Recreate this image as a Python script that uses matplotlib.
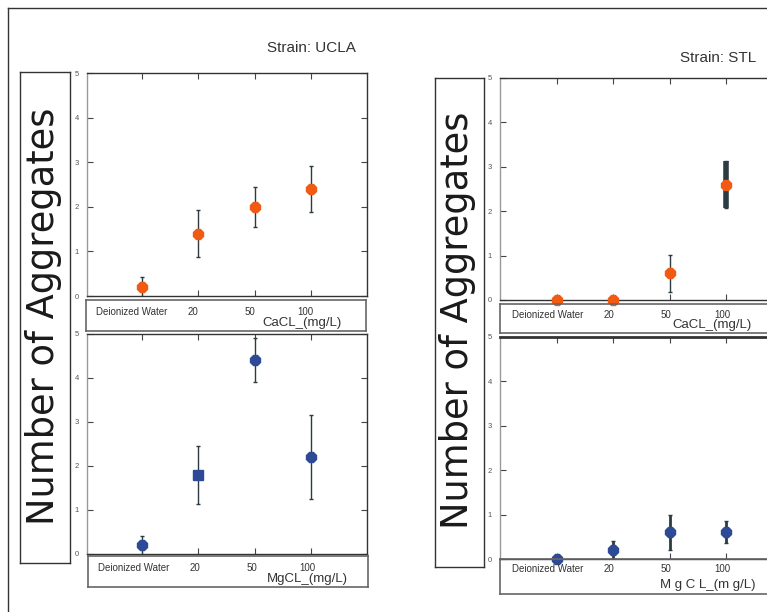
import matplotlib.pyplot as plt
from matplotlib.lines import Line2D

W, H = 767, 612
plt.rcParams['font.family'] = ['Liberation Sans', 'DejaVu Sans']

# data
cats = ['Deionized Water', '20', '50', '100']
ucla_ca = [0.2, 1.4, 2.0, 2.4]
ucla_ca_err = [0.22, 0.52, 0.45, 0.52]
ucla_mg = [0.2, 1.8, 4.4, 2.2]
ucla_mg_err = [0.22, 0.66, 0.5, 0.95]
stl_ca = [0.0, 0.0, 0.6, 2.6]
stl_ca_err = [0.0, 0.0, 0.42, 0.52]
stl_mg = [0.0, 0.2, 0.6, 0.6]
stl_mg_err = [0.0, 0.2, 0.4, 0.25]

orange = '#f05a12'
blue = '#2e4a96'
dark = '#2c3a42'
grey = '#666666'


def rect(x0, y0, x1, y1):
    # pixel box (top-left origin) -> figure fraction
    return [x0 / W, 1 - y1 / H, (x1 - x0) / W, (y1 - y0) / H]


fig = plt.figure(figsize=(W / 100, H / 100), dpi=100)

# outer frame
fig.add_artist(Line2D([8 / W, 8 / W], [0, 1 - 8 / H], transform=fig.transFigure, color='#333', lw=1))
fig.add_artist(Line2D([8 / W, 1], [1 - 8 / H, 1 - 8 / H], transform=fig.transFigure, color='#333', lw=1))


def data_axes(r, xlim, vals, errs, color, markers, elws):
    ax = fig.add_axes(rect(*r))
    ax.set_xlim(*xlim)
    ax.set_ylim(0, 5)
    for i, v in enumerate(vals):
        if errs[i] > 0:
            ax.errorbar(i, v, yerr=errs[i], fmt='none', ecolor=dark,
                        elinewidth=elws[i], capsize=1.5, capthick=1)
        ax.plot(i, v, marker=markers[i], color=color, mec=color, ms=7.5,
                clip_on=False, zorder=5)
    ax.set_xticks(range(len(vals)))
    ax.set_xticklabels([])
    ax.set_yticks(range(6))
    ax.tick_params(direction='in', top=True, right=True, length=4, width=0.8,
                   color='#444', labelsize=5.5, labelcolor='#555', pad=6)
    for s in ax.spines.values():
        s.set_color('#333')
        s.set_linewidth(1)
    ax.spines['left'].set_color('#999')
    return ax


def label_box(r, xlim, title, ly, ty, tx):
    ax = fig.add_axes(rect(*r))
    ax.set_facecolor('none')
    ax.set_xlim(*xlim)
    ax.set_ylim(0, 1)
    ax.set_xticks([])
    ax.set_yticks([])
    for s in ax.spines.values():
        s.set_color(grey)
        s.set_linewidth(1.2)
    for i, c in enumerate(cats):
        x = i - 0.16 if i == 0 else i - 0.07
        ax.text(x, ly, c, ha='center', va='center', fontsize=7, color='#333')
    ax.text(tx, ty, title, ha='center', va='center', fontsize=9.5, color='#333')
    return ax


def ylabel_box(r, cx, cy):
    ax = fig.add_axes(rect(*r))
    ax.set_xticks([])
    ax.set_yticks([])
    for s in ax.spines.values():
        s.set_color('#333')
        s.set_linewidth(1)
    fig.text(cx / W, 1 - cy / H, 'Number of Aggregates', rotation=90,
             ha='center', va='center', fontsize=26.5, color='#1a1a1a',
             family='DejaVu Sans')


# UCLA
fig.text(311 / W, 1 - 48 / H, 'Strain: UCLA', ha='center', va='center', fontsize=11, color='#333')
ylabel_box((20, 72, 70, 563), 44, 316)
ux = (-0.98, 4.0)
data_axes((87, 73, 367, 296), ux, ucla_ca, ucla_ca_err, orange, ['8'] * 4, [1] * 4)
label_box((86, 300, 366, 331), ux, 'CaCL_(mg/L)', 0.61, 0.27, 2.86)
data_axes((87, 334, 367, 554), ux, ucla_mg, ucla_mg_err, blue, ['8', 's', '8', '8'], [1] * 4)
label_box((88, 556, 368, 587), ux, 'MgCL_(mg/L)', 0.61, 0.27, 2.92)

# STL
fig.text(718 / W, 1 - 58 / H, 'Strain: STL', ha='center', va='center', fontsize=11, color='#333')
ylabel_box((435, 78, 484, 567), 458, 320)
sx = (-1.01, 3.96)
data_axes((500, 78, 780, 300), sx, stl_ca, stl_ca_err, orange, ['8'] * 4, [1, 1, 1, 4])
label_box((500, 304, 780, 333), sx, 'CaCL_(mg/L)', 0.62, 0.28, 2.75)
ax = data_axes((500, 337, 780, 559), sx, stl_mg, stl_mg_err, blue, ['8'] * 4, [2, 2, 2, 2])
ax.spines['top'].set_linewidth(2)
label_box((500, 559, 780, 594), sx, 'M g C L_(m g/L)', 0.71, 0.26, 2.68)

fig.savefig('out.png', dpi=100)
